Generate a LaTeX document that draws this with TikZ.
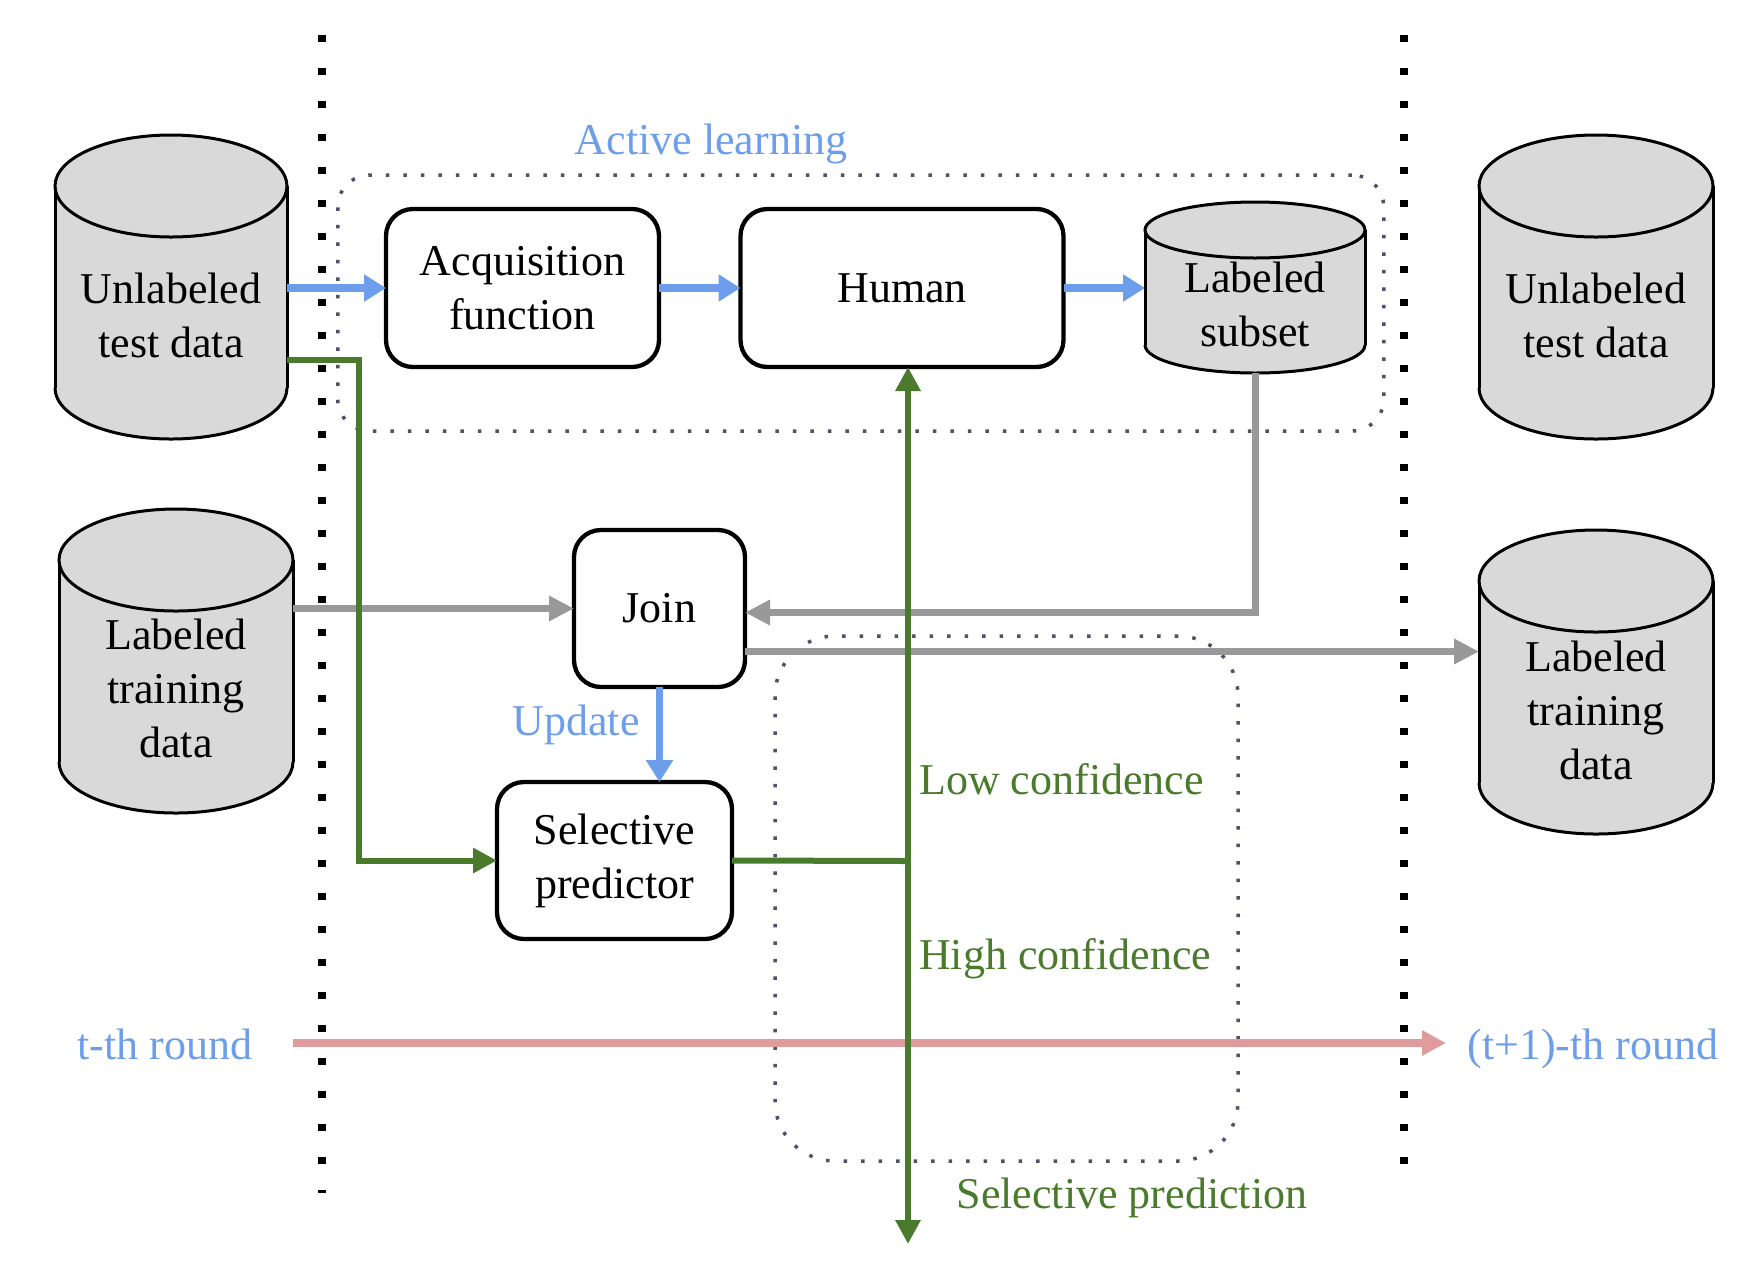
\documentclass[tikz,border=0pt]{standalone}
\usepackage{fontspec}
\setmainfont{Liberation Serif}
\usetikzlibrary{arrows.meta}
\definecolor{myblue}{HTML}{6D9EEB}
\definecolor{mygreen}{HTML}{4A7A2C}
\definecolor{mygray}{HTML}{999999}
\definecolor{mypink}{HTML}{E09C9C}
\definecolor{cylfill}{HTML}{D9D9D9}
\definecolor{dotcol}{HTML}{4A5466}
% #1 name, #2 cx, #3 top ellipse centre y, #4 bottom ellipse centre y, #5 rx, #6 ry, #7 text, #8 text y
\newcommand\dbcyl[8]{%
  \fill[cylfill] (#2-#5,#3) rectangle (#2+#5,#4);
  \fill[cylfill] (#2,#4) ellipse [x radius=#5, y radius=#6];
  \begin{scope}
    \clip (#2-#5-10,#4) rectangle (#2+#5+10,#4+#6+10);
    \draw[cylline] (#2,#4) ellipse [x radius=#5, y radius=#6];
  \end{scope}
  \draw[cylline] (#2-#5,#3) -- (#2-#5,#4);
  \draw[cylline] (#2+#5,#3) -- (#2+#5,#4);
  \draw[cylline, fill=cylfill] (#2,#3) ellipse [x radius=#5, y radius=#6];
  \node[cylbody, minimum width={2*#5}, minimum height={#4-#3+2*#6}] (#1) at (#2,{(#3+#4)/2}) {};
  \node[cyltext] (#1-t) at (#2,#8) {#7};
}
\begin{document}
\begin{tikzpicture}[x=1pt,y=-1pt,
  txt/.style={font=\fontsize{44}{54}\selectfont},
  box/.style={txt, draw=black, line width=4.3pt, rounded corners=27pt, fill=white,
    align=center, inner sep=0pt, outer sep=0pt},
  cylline/.style={draw=black, line width=3pt},
  cylbody/.style={inner sep=0pt, outer sep=0pt},
  cyltext/.style={txt, align=center, inner sep=0pt},
  bluetext/.style={txt, text=myblue, inner sep=0pt},
  greentext/.style={txt, text=mygreen, inner sep=0pt},
  dotbox/.style={draw=dotcol, line width=3.5pt, dash pattern=on 3.5pt off 14pt,
    inner sep=0pt, outer sep=0pt},
  vdots/.style={draw=black, line width=8pt, dash pattern=on 7pt off 26pt},
  barrow/.style={draw=myblue, line width=7.5pt, -{Triangle[length=22pt,width=26pt]}},
  garrow/.style={draw=mygray, line width=7pt, -{Triangle[length=25pt,width=24pt]}},
  gnline/.style={draw=mygreen, line width=6pt},
  gnarrow/.style={gnline, -{Triangle[length=24pt,width=24pt]}},
  parrow/.style={draw=mypink, line width=8pt, -{Triangle[length=24pt,width=24pt]}}
]
\useasboundingbox (0,0) rectangle (1758,1262);

% round separators
\draw[vdots] (322,35) -- (322,1193);
\draw[vdots] (1404,35) -- (1404,1164);

% dotted group boxes
\node[dotbox, rounded corners=32pt, minimum width=1046pt, minimum height=256pt] (albox) at (860.75,303) {};
\node[dotbox, rounded corners=60pt, minimum width=463pt, minimum height=525pt] (spbox) at (1006.5,898.5) {};

% cylinders
\dbcyl{uL}{171}{186}{388}{116}{51}{Unlabeled\\test data}{315}
\dbcyl{lT}{176}{560}{762}{117}{51}{Labeled\\training\\data}{688}
\dbcyl{uR}{1596}{186}{388}{117}{51}{Unlabeled\\test data}{315}
\dbcyl{rT}{1596}{581}{783}{117}{51}{Labeled\\training\\data}{710}
\dbcyl{sub}{1255}{230}{345}{110}{28}{Labeled\\subset}{304}

% boxes
\node[box, minimum width=273pt, minimum height=158pt] (acq) at (522.5,288) {Acquisition\\function};
\node[box, minimum width=323pt, minimum height=158pt] (human) at (902,288) {Human};
\node[box, minimum width=171pt, minimum height=157pt] (join) at (659.5,608.5) {Join};
\node[box, minimum width=235pt, minimum height=157pt] (sel) at (614.5,860.5) {Selective\\predictor};

% labels
\node[bluetext, anchor=base] (altext) at (711,154) {Active learning};
\node[bluetext, anchor=base] (upd) at (576,735) {Update};
\node[greentext, anchor=base west] (low) at (919,794) {Low confidence};
\node[greentext, anchor=base west] (high) at (919,969) {High confidence};
\node[greentext, anchor=base] (selp) at (1132,1208) {Selective prediction};
\node[bluetext, anchor=base] (tr) at (165,1059) {t-th round};
\node[bluetext, anchor=base] (t1r) at (1593,1059) {(t+1)-th round};

% coordinates
\coordinate (g1) at (359,360);
\coordinate (gj) at (908,861);
\coordinate (gend) at (908,1244);
\coordinate (p1) at (293,1043);
\coordinate (p2) at (1446,1043);
\path (join.east) ++(0,43) coordinate (jo);
\path (join.east) ++(0,4) coordinate (ji);

% blue flow
\draw[barrow] (uL.east |- acq.west) -- (acq.west);
\draw[barrow] (acq.east) -- (human.west);
\draw[barrow] (human.east) -- (sub.west |- human.east);
\draw[barrow] (join.south) -- (join.south |- sel.north);

% gray flow
\draw[garrow] (lT.east |- join.west) -- (join.west);
\draw[garrow] (sub.south) |- (ji);
\draw[garrow] (jo) -- (rT.west |- jo);

% round arrow
\draw[parrow] (p1) -- (p2);

% green flow
\draw[gnarrow] (uL.east |- g1) -- (g1) |- (sel.west);
\draw[gnline] (sel.east) -- (gj);
\draw[gnarrow] (gj) -- (gj |- human.south);
\draw[gnarrow] (gj) -- (gend);
\end{tikzpicture}
\end{document}
